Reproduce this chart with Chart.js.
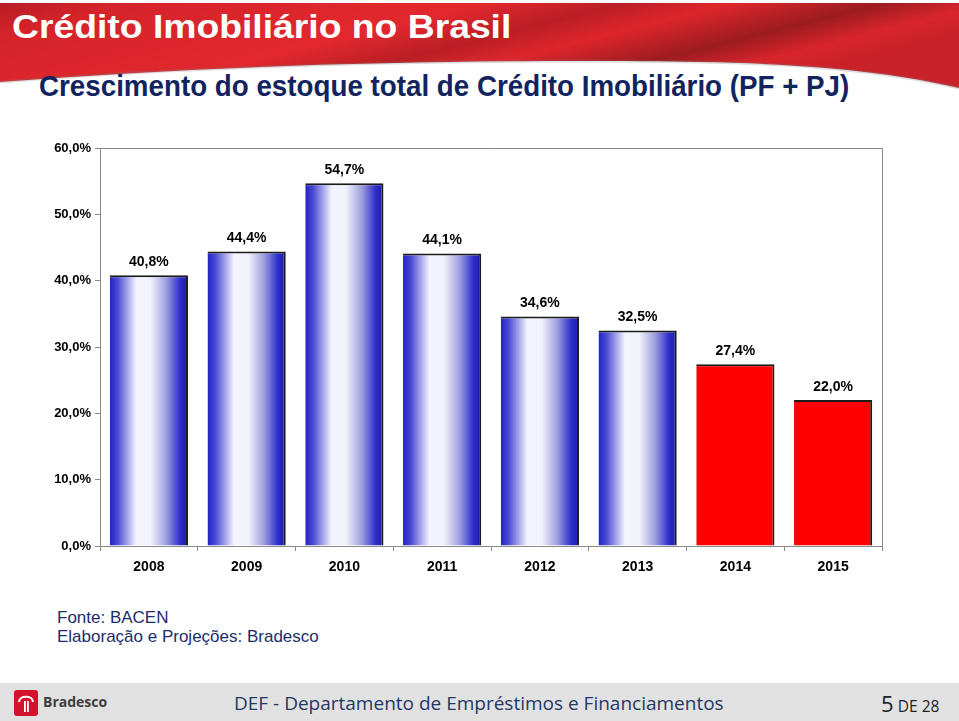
<!DOCTYPE html>
<html>
<head>
<meta charset="utf-8">
<script src="https://cdn.jsdelivr.net/npm/chart.js@4/dist/chart.umd.min.js"></script>
<style>
  html, body { margin: 0; padding: 0; background: #fff; }
  body { width: 959px; height: 721px; position: relative; overflow: hidden; font-family: "Liberation Sans", Arial, sans-serif; }
  #header { position: absolute; left: 0; top: 0; }
  #title { position: absolute; left: 12px; top: 8px; color: #fff; font-weight: bold; font-size: 33px; white-space: nowrap; transform: scaleX(1.13); transform-origin: left center; }
  #subtitle { position: absolute; left: 39px; top: 69px; color: #13235e; font-weight: bold; font-size: 30px; white-space: nowrap; transform: scaleX(0.925); transform-origin: left center; }
  #chartBox { position: absolute; left: 0; top: 120px; width: 959px; height: 480px; }
  #source { position: absolute; left: 57px; top: 608px; color: #1c2d6b; font-size: 17px; line-height: 19px; }
  #footer { position: absolute; left: 0; top: 683px; width: 959px; height: 38px; background: #e1e1e1; }
  #logo { position: absolute; left: 14px; top: 7px; }
  #brand { position: absolute; left: 43px; top: 9px; font-family: "Open Sans", sans-serif; font-weight: bold; font-size: 14px; color: #3d3d3d; }
  #dept { position: absolute; left: 234px; top: 7px; font-family: "Open Sans", sans-serif; font-size: 19px; color: #1f3864; white-space: nowrap; }
  #page { position: absolute; left: 881px; top: 5px; font-family: "Open Sans", sans-serif; color: #222; white-space: nowrap; }
</style>
</head>
<body>
<svg id="header" width="959" height="100">
  <defs>
    <linearGradient id="redBand" x1="0" y1="0" x2="1" y2="0.35">
      <stop offset="0" stop-color="#b71d24"/>
      <stop offset="0.12" stop-color="#d5232a"/>
      <stop offset="0.45" stop-color="#e2282e"/>
      <stop offset="0.58" stop-color="#b91f25"/>
      <stop offset="0.68" stop-color="#de262c"/>
      <stop offset="0.82" stop-color="#9c1c20"/>
      <stop offset="0.92" stop-color="#d8252b"/>
      <stop offset="1" stop-color="#c92228"/>
    </linearGradient>
  </defs>
  <path d="M0,3 L959,3 L959,88 C900,74 820,64 700,62 C520,59 250,62 0,82 Z" fill="url(#redBand)"/>
  <path d="M0,82 C250,62 520,59 700,62 C820,64 900,74 959,88" fill="none" stroke="rgba(120,120,120,0.25)" stroke-width="3"/>
</svg>
<div id="title">Crédito Imobiliário no Brasil</div>
<div id="subtitle">Crescimento do estoque total de Crédito Imobiliário (PF + PJ)</div>

<div id="chartBox"><canvas id="chart"></canvas></div>

<div id="source">Fonte: BACEN<br>Elaboração e Projeções: Bradesco</div>

<div id="footer">
  <svg id="logo" width="24" height="26">
    <rect x="0" y="0" width="24" height="26" rx="3" fill="#d3122c"/>
    <path d="M5,12 C5,5 19,5 19,12" fill="none" stroke="#fff" stroke-width="2.2"/>
    <rect x="10" y="11" width="1.8" height="11" fill="#fff"/>
    <rect x="13" y="11" width="1.8" height="11" fill="#fff"/>
  </svg>
  <div id="brand">Bradesco</div>
  <div id="dept">DEF - Departamento de Empréstimos e Financiamentos</div>
  <div id="page"><span style="font-size:22px">5</span> <span style="font-size:15.5px">DE 28</span></div>
</div>

<script>
const years = ['2008', '2009', '2010', '2011', '2012', '2013', '2014', '2015'];
const growth = [40.8, 44.4, 54.7, 44.1, 34.6, 32.5, 27.4, 22.0];
const projectedYears = ['2014', '2015'];
const yTicks = [0, 10, 20, 30, 40, 50, 60];

const pct = v => v.toFixed(1).replace('.', ',') + '%';

function barFill(ctx) {
  const i = ctx.dataIndex;
  if (projectedYears.includes(years[i])) return '#ff0000';
  const chart = ctx.chart;
  const x = chart.scales.x;
  if (!x || !chart.chartArea) return '#3030cc';
  const cx = x.getPixelForValue(i);
  const w = (x.width / years.length) * 0.8;
  const g = chart.ctx.createLinearGradient(cx - w / 2, 0, cx + w / 2, 0);
  g.addColorStop(0, '#2222c8');
  g.addColorStop(0.1, '#4a4ad4');
  g.addColorStop(0.34, '#f4f4ff');
  g.addColorStop(0.52, '#f2f2fb');
  g.addColorStop(0.72, '#a0a0e0');
  g.addColorStop(0.9, '#2d2dcc');
  g.addColorStop(1, '#1a1aa6');
  return g;
}

const frame = {
  id: 'frame',
  afterDraw(chart) {
    const { ctx, chartArea: a } = chart;
    ctx.save();
    ctx.strokeStyle = '#8a8a8a';
    ctx.lineWidth = 1;
    ctx.beginPath();
    ctx.moveTo(a.left, a.top + 0.5);
    ctx.lineTo(a.right + 0.5, a.top + 0.5);
    ctx.lineTo(a.right + 0.5, a.bottom);
    ctx.stroke();
    ctx.restore();
  }
};

const valueLabels = {
  id: 'valueLabels',
  afterDatasetsDraw(chart) {
    const { ctx } = chart;
    const meta = chart.getDatasetMeta(0);
    ctx.save();
    ctx.font = 'bold 14px "Liberation Sans", Arial, sans-serif';
    ctx.fillStyle = '#000';
    ctx.textAlign = 'center';
    ctx.textBaseline = 'middle';
    meta.data.forEach((bar, i) => {
      ctx.fillText(pct(growth[i]), bar.x, bar.y - 13);
    });
    ctx.restore();
  }
};

new Chart(document.getElementById('chart'), {
  type: 'bar',
  data: {
    labels: years,
    datasets: [{
      data: growth,
      backgroundColor: barFill,
      borderColor: '#1b1b1b',
      borderWidth: { top: 2, right: 2, left: 0, bottom: 0 },
      borderSkipped: false,
      barPercentage: 0.8,
      categoryPercentage: 1
    }]
  },
  options: {
    responsive: true,
    maintainAspectRatio: false,
    animation: false,
    layout: { padding: { top: 28, right: 77, left: 0, bottom: 0 } },
    plugins: { legend: { display: false }, tooltip: { enabled: false } },
    scales: {
      x: {
        afterFit: s => { s.height = 54; },
        grid: { drawOnChartArea: false, tickLength: 5, color: '#8a8a8a' },
        border: { color: '#8a8a8a' },
        ticks: { color: '#000', padding: 8, font: { family: '"Liberation Sans", Arial, sans-serif', size: 14, weight: 'bold' } }
      },
      y: {
        min: 0,
        max: 60,
        afterFit: s => { s.width = 100; },
        afterBuildTicks: s => { s.ticks = yTicks.map(v => ({ value: v })); },
        grid: { drawOnChartArea: false, tickLength: 5, color: '#8a8a8a' },
        border: { color: '#8a8a8a' },
        ticks: {
          color: '#000',
          padding: 4,
          callback: v => pct(v),
          font: { family: '"Liberation Sans", Arial, sans-serif', size: 13, weight: 'bold' }
        }
      }
    }
  },
  plugins: [frame, valueLabels]
});
</script>
</body>
</html>
